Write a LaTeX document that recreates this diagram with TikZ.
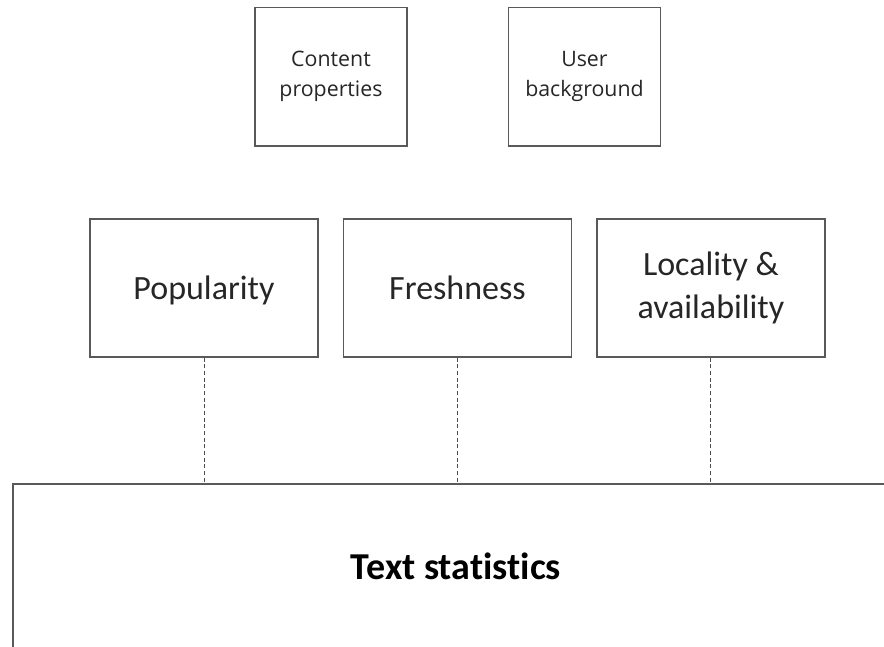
\documentclass[tikz,border=0pt]{standalone}
\usepackage{fontspec}
\setmainfont[Ligatures=NoCommon]{Carlito}
\newfontfamily\smallfont{Open Sans}
\begin{document}
\begin{tikzpicture}[x=0.75pt,y=-0.75pt,node distance=190.1pt,
    main node/.style={rectangle,draw=black!65,line width=1pt,text=black!85,inner sep=0pt,align=center,minimum width=171pt,minimum height=103.5pt,font=\fontsize{25.5}{32}\selectfont},
    one line/.style={text height=16.5pt,text depth=0pt},
    small node/.style={main node,minimum width=114pt,minimum height=104pt,font=\smallfont\fontsize{16}{22}\selectfont},
    base node/.style={main node,text height=18.4pt,text depth=0pt,minimum width=664.5pt,minimum height=124.5pt,text=black,font=\bfseries\fontsize{28.5}{34}\selectfont}]
    \useasboundingbox (0,0) rectangle (884,646);
    \clip (0,0) rectangle (884,646);
    \node[main node,one line] (1) at (204,288) {Popularity};
    \node[main node,one line] (2) [right of=1] {Freshness};
    \node[main node] (3) [right of=2] {Locality \&\\availability};
    \node[small node] (4) at (331,76.5) {Content\\properties};
    \node[small node] (5) [right of=4] {User\\background};
    \node[base node] (6) at (456,567) {Text statistics};

    \path[draw=black!70,line width=0.75pt,dash pattern=on 3pt off 2pt]
        (1) edge (1 |- 6.north)
        (2) edge (2 |- 6.north)
        (3) edge (3 |- 6.north)
        ;
\end{tikzpicture}
\end{document}
